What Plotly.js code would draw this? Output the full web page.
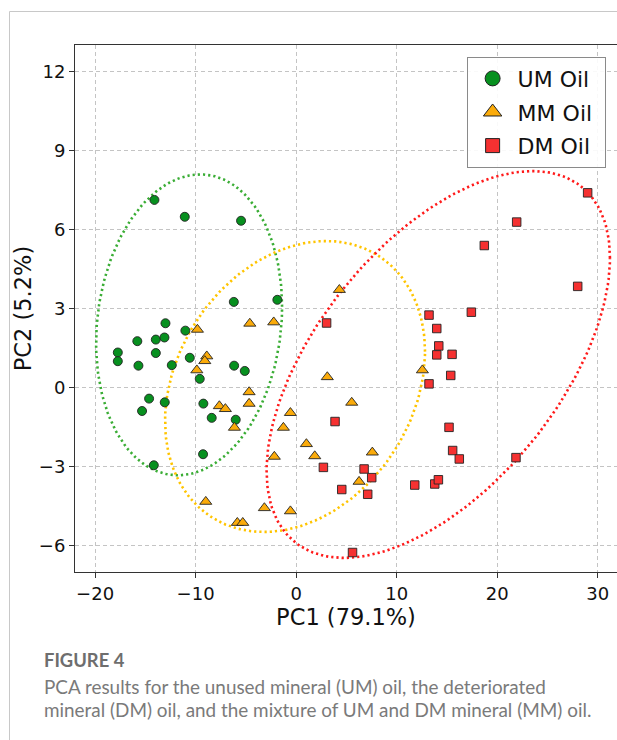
<!DOCTYPE html>
<html>
<head>
<meta charset="utf-8">
<script src="https://cdn.plot.ly/plotly-3.0.1.min.js"></script>
<style>
html,body{margin:0;padding:0;background:#fff;}
#chart{width:617px;height:740px;}
</style>
</head>
<body>
<div id="chart"></div>
<script>
// ---- data ----
const umX = [-14.1, -11.08, -5.48, -6.2, -1.87, -13.0, -11.02, -15.8, -13.96, -13.1, -17.74, -17.74, -13.96, -15.69, -12.37, -10.58, -9.59, -6.17, -5.11, -14.63, -13.07, -15.33, -9.23, -8.4, -6.01, -9.26, -14.16];
const umY = [7.12, 6.48, 6.33, 3.25, 3.33, 2.44, 2.16, 1.76, 1.82, 1.9, 1.33, 1.0, 1.31, 0.83, 0.85, 1.13, 0.33, 0.83, 0.63, -0.42, -0.56, -0.89, -0.61, -1.15, -1.22, -2.53, -2.95];

const mmX = [-9.82, -4.61, -2.23, -8.89, -9.09, -9.88, -4.68, -4.68, -7.64, -7.04, -6.14, -0.57, -1.27, -2.17, -8.99, -3.16, -0.57, -5.85, -5.31, 4.3, 3.1, 5.53, 1.02, 1.85, 7.58, 6.26, 12.56];
const mmY = [2.2, 2.43, 2.48, 1.19, 1.01, 0.66, -0.17, -0.61, -0.7, -0.81, -1.52, -0.96, -1.52, -2.62, -4.33, -4.57, -4.69, -5.13, -5.13, 3.71, 0.4, -0.57, -2.14, -2.6, -2.46, -3.57, 0.66];

const dmX = [3.03, 13.22, 13.99, 14.19, 13.99, 13.22, 3.87, 2.71, 6.76, 7.52, 4.54, 7.12, 11.8, 13.79, 14.15, 5.61, 29.0, 21.94, 18.72, 28.01, 17.43, 15.51, 15.38, 15.21, 15.57, 16.23, 21.87];
const dmY = [2.45, 2.75, 2.24, 1.58, 1.24, 0.14, -1.29, -3.03, -3.09, -3.42, -3.87, -4.05, -3.7, -3.66, -3.5, -6.26, 7.39, 6.28, 5.39, 3.84, 2.86, 1.26, 0.46, -1.51, -2.39, -2.71, -2.66];

// confidence ellipses: centre, half-extent along x and y, correlation
const ellCx   = [-10.65, -0.11, 14.14];
const ellCy   = [2.38, 0.04, 0.875];
const ellHx   = [9.25, 12.93, 17.08];
const ellHy   = [5.71, 5.52, 7.34];
const ellRho  = [0.12, 0.24, 0.55];

const seriesNames = ['UM Oil', 'MM Oil', 'DM Oil'];
const xTicks = [-20, -10, 0, 10, 20, 30];
const yTicks = [-6, -3, 0, 3, 6, 9, 12];

// ---- styling ----
const markerColors = ['#07901f', '#fbab0a', '#f53131'];
const ellColors = ['#3aad35', '#ffc400', '#ff1a1a'];
const symbols = ['circle', 'triangle-up', 'square'];
const sizes = [9, 10.5, 8.5];
const legendSizes = [15, 17, 14];

function ellipse(i) {
  const delta = Math.acos(ellRho[i]);
  const xs = [], ys = [];
  const n = 200;
  for (let k = 0; k <= n; k++) {
    const t = 2 * Math.PI * k / n;
    xs.push(ellCx[i] + ellHx[i] * Math.cos(t));
    ys.push(ellCy[i] + ellHy[i] * Math.cos(t - delta));
  }
  return {x: xs, y: ys};
}

const traces = [];
for (let i = 0; i < 3; i++) {
  const e = ellipse(i);
  traces.push({
    x: e.x, y: e.y, type: 'scatter', mode: 'lines', showlegend: false, hoverinfo: 'skip',
    line: {color: ellColors[i], width: 2.6, dash: '2.2px,3px'}
  });
}
const xs = [umX, mmX, dmX], ys = [umY, mmY, dmY];
for (let i = 0; i < 3; i++) {
  traces.push({
    x: xs[i], y: ys[i], type: 'scatter', mode: 'markers', name: seriesNames[i], showlegend: false,
    marker: {symbol: symbols[i], size: sizes[i], color: markerColors[i], line: {color: '#222', width: 0.9}}
  });
}
// legend entries (no data points, only larger legend symbols)
for (let i = 0; i < 3; i++) {
  traces.push({
    x: [null], y: [null], type: 'scatter', mode: 'markers', name: seriesNames[i] + '\u00a0', legendgroup: 'g' + i,
    marker: {symbol: symbols[i], size: legendSizes[i], color: markerColors[i], line: {color: '#222', width: 1}}
  });
}

const axisCommon = {
  showline: true, linecolor: '#333', linewidth: 1,
  ticks: 'outside', ticklen: 5, tickcolor: '#333', tickwidth: 1,
  showgrid: true, gridcolor: '#c4c4c4', gridwidth: 1, griddash: '4px,3px',
  zeroline: false,
  tickfont: {family: 'DejaVu Sans', size: 18, color: '#111'}
};

const layout = {
  width: 617, height: 740,
  margin: {l: 75, r: 0, t: 45, b: 168},
  paper_bgcolor: '#fff', plot_bgcolor: '#fff',
  font: {family: 'DejaVu Sans', color: '#111'},
  xaxis: Object.assign({}, axisCommon, {
    range: [-22, 31.92], tickvals: xTicks, ticktext: xTicks.map(v => v < 0 ? '\u2212' + Math.abs(v) : String(v)),
    mirror: true,
    title: {text: 'PC1 (79.1%)', font: {family: 'DejaVu Sans', size: 22.5, color: '#111'}, standoff: 1}
  }),
  yaxis: Object.assign({}, axisCommon, {
    range: [-7, 13], tickvals: yTicks, ticktext: yTicks.map(v => v < 0 ? '\u2212' + Math.abs(v) : String(v)),
    mirror: false,
    title: {text: 'PC2 (5.2%)', font: {family: 'DejaVu Sans', size: 22.5, color: '#111'}, standoff: 0}
  }),
  legend: {
    x: 0.979, y: 0.978, xanchor: 'right', yanchor: 'top',
    bgcolor: 'rgba(255,255,255,0.9)', bordercolor: '#8a8a8a', borderwidth: 1,
    font: {family: 'DejaVu Sans', size: 22, color: '#111'},
    tracegroupgap: 2, itemwidth: 40
  },
  shapes: [
    {type: 'line', xref: 'paper', yref: 'paper', x0: (9.5 - 75) / 542, x1: (9.5 - 75) / 542, y0: (572 - 11.5) / 527, y1: (572 - 745) / 527, line: {color: '#c8c8c8', width: 1}},
    {type: 'line', xref: 'paper', yref: 'paper', x0: (9.5 - 75) / 542, x1: (620 - 75) / 542, y0: (572 - 11.5) / 527, y1: (572 - 11.5) / 527, line: {color: '#c8c8c8', width: 1}}
  ],
  annotations: [
    {xref: 'paper', yref: 'paper', x: (41.5 - 75) / 542, y: (572 - 660) / 527, xanchor: 'left', yanchor: 'middle', showarrow: false,
     text: '<b>FIGURE 4</b>', font: {family: 'Lato', size: 18.4, color: '#6e6e6e'}},
    {xref: 'paper', yref: 'paper', x: (41.5 - 75) / 542, y: (572 - 686) / 527, xanchor: 'left', yanchor: 'middle', showarrow: false,
     text: 'PCA results for the unused mineral (UM) oil, the deteriorated', font: {family: 'Lato', size: 18.9, color: '#7a7a7a'}},
    {xref: 'paper', yref: 'paper', x: (41.5 - 75) / 542, y: (572 - 710) / 527, xanchor: 'left', yanchor: 'middle', showarrow: false,
     text: 'mineral (DM) oil, and the mixture of UM and DM mineral (MM) oil.', font: {family: 'Lato', size: 18.9, color: '#7a7a7a'}}
  ]
};

Plotly.newPlot('chart', traces, layout, {staticPlot: true, displayModeBar: false});
</script>
</body>
</html>
